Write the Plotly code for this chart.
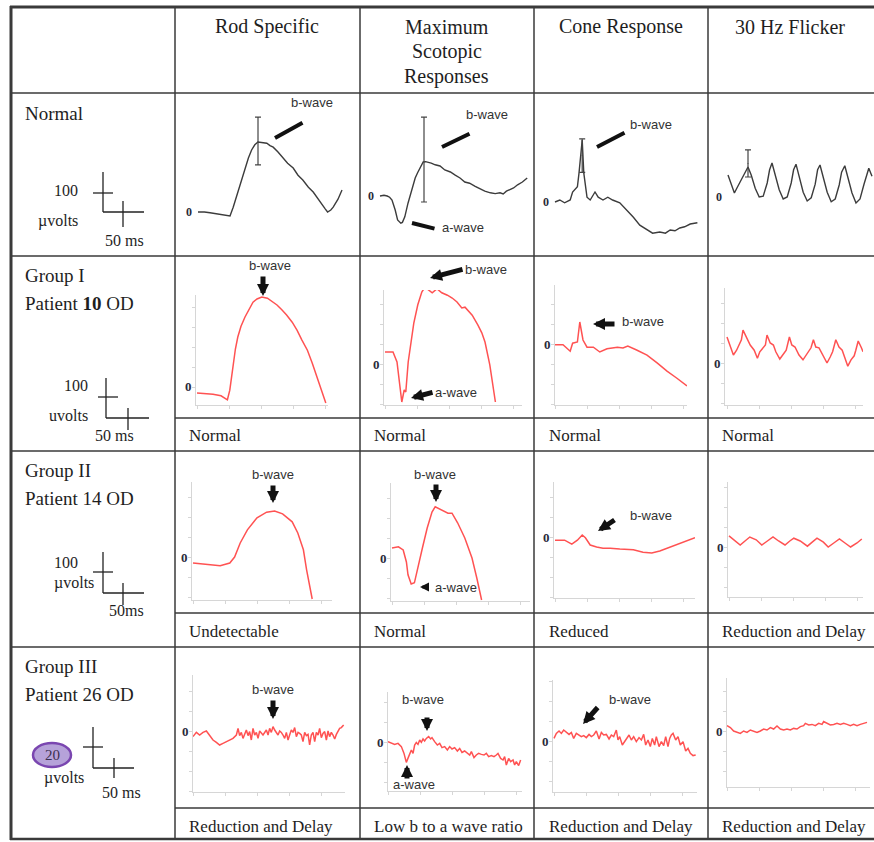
import plotly.graph_objects as go

W, H = 874, 842
SERIF = "Liberation Serif, Times New Roman, serif"
SANS = "Liberation Sans, Arial, sans-serif"
TXT = "#1e1e1e"

# ---------------- DATA ----------------
col_headers = ["Rod Specific", "Maximum|Scotopic|Responses", "Cone Response", "30 Hz Flicker"]
row_labels = ["Normal", "Group I|Patient <b>10</b> OD", "Group II|Patient 14 OD", "Group III|Patient 26 OD"]
captions_g1 = ["Normal", "Normal", "Normal", "Normal"]
captions_g2 = ["Undetectable", "Normal", "Reduced", "Reduction and Delay"]
captions_g3 = ["Reduction and Delay", "Low b to a wave ratio", "Reduction and Delay", "Reduction and Delay"]
scale_amp = ["100", "100", "100", "20"]
scale_unit = ["µvolts", "uvolts", "µvolts", "µvolts"]
scale_time = ["50 ms", "50 ms", "50ms", "50 ms"]

# Normal (black) traces: time (ms), amplitude (µV)
rod_n_t = [0, 8, 15, 24, 32, 40, 44, 48, 52, 56, 59, 63, 67, 71, 75, 80, 86, 90, 94, 100, 106, 112, 119, 125, 131, 138, 144, 150, 155, 159, 162, 166, 169, 175, 180]
rod_n_v = [0, 0, -2, -5, -8, -10, 12, 38, 62, 90, 112, 135, 155, 168, 175, 174, 172, 166, 162, 150, 137, 122, 110, 92, 80, 62, 50, 32, 18, 8, 0, 5, 12, 32, 55]
max_n_t = [0, 5, 9, 12, 15, 19, 22, 26, 28, 31, 35, 40, 44, 47, 50, 54, 57, 60, 64, 69, 75, 81, 88, 94, 100, 106, 112, 119, 125, 131, 138, 144, 150, 154, 158, 162, 167, 172, 178, 184]
max_n_v = [0, 2, 0, -3, -10, -35, -60, -68, -66, -52, -18, 15, 45, 58, 70, 85, 86, 85, 82, 78, 75, 65, 60, 52, 45, 35, 32, 24, 18, 12, 8, 6, 8, 5, 12, 15, 20, 28, 35, 45]
cone_n_t = [0, 6, 12, 19, 22, 28, 30, 32, 34, 36, 40, 44, 50, 54, 60, 66, 72, 81, 90, 98, 106, 115, 122, 131, 138, 144, 150, 156, 162, 169, 178]
cone_n_v = [0, 5, -2, 5, 25, 38, 72, 120, 155, 72, 12, 5, 25, 12, 5, 12, 5, -2, -20, -38, -58, -70, -78, -75, -78, -70, -72, -65, -62, -55, -52]
flk_n_t = [0, 4, 8, 11, 16, 21, 25, 29, 34, 39, 44, 49, 52, 55, 59, 64, 69, 74, 79, 82, 85, 89, 94, 99, 104, 109, 112, 115, 119, 124, 129, 134, 139, 142, 146, 150, 155, 160, 165, 170, 174, 176, 180]
flk_n_v = [55, 30, 10, 22, 42, 60, 75, 55, 22, 0, 2, 35, 68, 85, 55, 18, -5, 0, 35, 68, 82, 52, 12, -10, -2, 32, 68, 80, 50, 12, -12, -5, 30, 62, 78, 48, 10, -15, -5, 32, 62, 72, 52]

# b-wave measurement bars on the normal traces: time, centre, +, -
err_rod_n = [75, 175, 62, 57]
err_max_n = [55, 85, 112, 100]
err_cone_n = [34, 116, 42, 42]
err_flk_n = [25, 84, 34, 34]

# Group I (Patient 10 OD)
rod1_t = [0, 10, 20, 30, 38, 41, 45, 48, 51, 55, 60, 65, 70, 75, 81, 88, 94, 100, 106, 112, 119, 125, 131, 138, 144, 150, 156, 161]
rod1_v = [-15, -16, -18, -22, -32, -8, 60, 95, 125, 152, 175, 195, 212, 220, 225, 222, 214, 205, 193, 180, 162, 142, 118, 92, 60, 25, -8, -40]
max1_t = [0, 10, 15, 19, 21, 24, 26, 29, 34, 36, 41, 46, 50, 55, 59, 65, 71, 78, 84, 90, 96, 100, 105, 109, 116, 121, 125, 131, 138]
max1_v = [30, 30, 5, -60, -95, -65, -70, 5, 72, 102, 148, 180, 192, 185, 178, 188, 178, 172, 165, 155, 140, 142, 130, 122, 98, 78, 55, -2, -95]
cone1_t = [0, 10, 19, 22, 28, 31, 35, 40, 48, 56, 65, 78, 85, 91, 102, 115, 128, 140, 152, 165]
cone1_v = [-2, -2, -18, 2, 5, 55, 10, -8, -8, -20, -12, -8, -10, -5, -15, -28, -48, -68, -85, -105]
flk1_t = [0, 4, 8, 12, 18, 20, 24, 29, 34, 38, 41, 45, 48, 50, 54, 58, 61, 66, 70, 74, 78, 81, 85, 90, 95, 99, 102, 105, 108, 111, 115, 120, 125, 129, 132, 136, 140, 144, 148, 151, 155, 159, 161, 164, 168, 170]
flk1_v = [65, 45, 20, 32, 58, 82, 65, 45, 32, 12, 28, 38, 45, 70, 50, 45, 28, 10, 20, 32, 65, 45, 40, 20, 8, 20, 28, 38, 58, 40, 38, 18, 0, 15, 28, 58, 40, 32, 12, -8, 8, 18, 32, 55, 38, 28]

# Group II (Patient 14 OD)
rod2_t = [0, 18, 34, 46, 52, 59, 68, 80, 92, 102, 112, 124, 131, 138, 142, 149]
rod2_v = [-15, -18, -22, -15, 0, 35, 68, 98, 112, 115, 108, 88, 60, 18, -32, -105]
max2_t = [0, 8, 14, 18, 20, 24, 28, 32, 38, 44, 50, 54, 62, 70, 75, 82, 91, 100, 106, 112]
max2_v = [25, 28, 20, -10, -42, -65, -62, -25, 25, 75, 115, 128, 120, 112, 112, 88, 50, 0, -50, -105]
cone2_t = [0, 12, 21, 28, 34, 38, 44, 52, 60, 69, 81, 98, 110, 121, 131, 144, 156, 175]
cone2_v = [-8, -8, -18, -8, 5, -2, -20, -25, -28, -28, -30, -32, -38, -40, -35, -25, -15, -2]
flk2_t = [0, 6, 14, 20, 26, 34, 41, 48, 55, 62, 70, 76, 81, 89, 98, 104, 110, 118, 124, 131, 138, 145, 152, 160, 166]
flk2_v = [28, 18, 5, 15, 25, 18, 5, 15, 25, 15, 5, 15, 22, 15, 2, 12, 22, 12, 0, 10, 20, 10, 0, 10, 20]

# Group III (Patient 26 OD)
rod3_t = [0, 4.2, 8.3, 12.5, 16.7, 20.8, 25, 29.2, 33.3, 37.5, 41.7, 45.8, 50, 54.2, 56.3, 58.3, 60.4, 62.5, 64.6, 66.7, 68.8, 70.8, 72.9, 75, 77.1, 79.2, 81.3, 83.3, 87.5, 91.7, 93.8, 95.8, 97.9, 100, 102.1, 104.2, 106.3, 108.3, 110.4, 112.5, 114.6, 116.7, 118.8, 120.8, 122.9, 125, 127.1, 129.2, 131.3, 133.3, 135.4, 137.5, 139.6, 141.7, 143.8, 145.8, 147.9, 150, 152.1, 154.2, 156.3, 158.3, 160.4, 162.5, 164.6, 166.7, 168.8, 170.8, 172.9, 175, 177.1, 179.2, 181.3, 183.3, 185.4, 188.3]
rod3_v = [-2.8, -0.7, -2.0, -0.7, 0, -2.3, -4.5, -5.7, -7.0, -6.2, -5.3, -4.5, -3.7, -2.0, 1.3, -2.3, -0.7, -3.7, -1.2, 0.5, -2.3, -0.3, -4.5, 1.3, -2.0, -0.7, -3.7, 0, -2.0, 0.5, -2.0, 1.3, -0.7, 2.2, 0.5, -0.7, -2.0, 0, -0.7, -2.0, -3.7, -0.7, -4.5, -2.0, 0.5, -0.7, 1.7, -2.8, -0.7, -1.2, -2.0, -5.3, -0.7, -2.3, -1.7, -7.0, -2.0, -0.7, -5.3, -0.7, -2.0, 1.3, -3.3, -1.2, -0.3, -4.5, 0, -2.8, -0.7, -2.0, -4.0, -1.7, -0.3, 1.3, 1.7, 3.0]
max3_t = [0, 4.2, 8.3, 12.5, 16.7, 20, 22.9, 25.8, 29.2, 31.3, 33.3, 35.4, 37.5, 39.6, 41.7, 43.8, 45.8, 47.9, 50.8, 53.3, 55, 58.3, 61.7, 64.6, 67.5, 70.8, 74.2, 77.1, 80, 83.3, 86.7, 89.6, 92.5, 95.8, 99.2, 102.1, 104.2, 107.5, 110.4, 113.3, 116.7, 120, 122.9, 125.8, 129.2, 132.5, 135.4, 137.5, 140.8, 143.8, 145.8, 147.9, 150.8, 153.3, 156.3, 158.3, 160.4, 163.3, 165.8]
max3_v = [0.2, -0.7, -1.2, -0.7, -2.3, -5.7, -10.2, -7.3, -4.0, -5.7, -1.5, -0.2, -1.2, 1.0, -0.2, 1.5, 0.5, 1.8, 2.7, 1.5, 2.2, 0.2, -1.5, -0.7, -2.8, -2.3, -4.0, -2.3, -3.5, -2.8, -4.5, -3.2, -5.2, -4.5, -5.7, -6.5, -4.8, -7.8, -6.5, -5.7, -6.2, -6.5, -5.7, -7.3, -6.8, -7.3, -6.5, -5.7, -8.2, -9.0, -7.3, -11.5, -8.2, -9.8, -9.0, -11.5, -9.8, -11.8, -9.0]
cone3_t = [0, 2.9, 6.3, 9.2, 12.1, 15.4, 18.8, 21.7, 24.6, 27.9, 31.3, 34.2, 37.1, 40.4, 43.8, 46.7, 49.6, 52.9, 56.3, 59.2, 62.1, 65.4, 68.8, 71.7, 74.6, 77.9, 80, 82.1, 85.4, 88.3, 91.3, 93.8, 96.7, 99.6, 102.9, 106.3, 109.2, 112.1, 114.6, 117.5, 120.4, 122.9, 125.8, 127.9, 131.3, 134.2, 137.1, 139.6, 142.5, 144.6, 146.7, 148.8, 152.1, 155, 157.9, 161.3, 164.6, 167.5, 170.4, 173.8, 177.1]
cone3_v = [1.3, 3.8, 5.0, 3.8, 5.5, 4.3, 3.3, 4.3, 1.3, 3.8, 3.0, 2.2, 2.7, 1.7, 3.3, 2.2, 3.0, 5.0, 1.0, 4.3, 3.0, 3.3, 1.0, 3.0, 2.2, 5.5, 0.5, 2.2, -2.0, -0.3, 1.3, 3.0, 0.5, 2.2, -0.3, 1.7, 0.5, 3.3, -2.0, 0.5, -2.8, 1.3, -2.0, 2.2, -2.8, -0.3, -2.3, 2.2, -2.8, 1.3, 3.0, 3.8, 0.5, 2.2, -2.0, -0.3, -5.0, -3.7, -6.2, -7.3, -7.0]
flk3_t = [0, 4.2, 8.3, 12.5, 16.7, 20.8, 25, 29.2, 33.3, 37.5, 41.7, 45.8, 50, 54.2, 58.3, 62.5, 66.7, 70.8, 75, 79.2, 83.3, 87.5, 91.7, 95.8, 97.9, 102.1, 106.3, 110.4, 114.6, 118.8, 120.8, 125, 129.2, 133.3, 137.5, 141.7, 145.8, 150, 154.2, 158.3, 162.5, 166.7, 170.8, 175]
flk3_v = [2.7, 1.7, 0, -0.7, -1.2, 0, -0.7, 0.5, 0, -0.7, 0, 1.0, 0.5, 1.7, 1.0, 2.5, 1.0, 0.5, 1.0, 0.5, 1.3, 1.0, 2.2, 2.7, 3.8, 3.0, 3.3, 2.7, 3.8, 3.3, 4.7, 3.8, 3.0, 3.3, 3.8, 3.3, 3.8, 3.3, 2.7, 3.3, 2.7, 3.3, 3.8, 4.3]

# ---------------- LAYOUT (pixels) ----------------
S1 = (1.25, 2.5)   # ms/px, µV/px  (100 µV scale rows)
S4 = (1.25, 0.5)   # 20 µV scale row
panels = [
    # t, v, box (xL, yT, xR, yB), origin (x0, y0), scale, style, err
    (rod_n_t, rod_n_v, (196, 100, 346, 252), (198, 212), S1, "black", err_rod_n),
    (max_n_t, max_n_v, (378, 100, 530, 252), (380, 196), S1, "black", err_max_n),
    (cone_n_t, cone_n_v, (553, 100, 702, 252), (555, 202), S1, "black", err_cone_n),
    (flk_n_t, flk_n_v, (726, 100, 873, 252), (728, 197), S1, "black", err_flk_n),
    (rod1_t, rod1_v, (196, 295, 328, 405), (197, 387), S1, "red", None),
    (max1_t, max1_v, (384, 290, 522, 405), (385, 364), S1, "red", None),
    (cone1_t, cone1_v, (555, 285, 687, 405), (555, 344), S1, "red", None),
    (flk1_t, flk1_v, (725, 288, 863, 405), (727, 363), S1, "red", None),
    (rod2_t, rod2_v, (192, 482, 332, 600), (193, 557), S1, "red", None),
    (max2_t, max2_v, (391, 483, 530, 601), (392, 558), S1, "red", None),
    (cone2_t, cone2_v, (554, 482, 695, 598), (555, 537), S1, "red", None),
    (flk2_t, flk2_v, (728, 482, 863, 597), (729, 547), S1, "red", None),
    (rod3_t, rod3_v, (193, 675, 345, 792), (193, 731), S4, "red", None),
    (max3_t, max3_v, (388, 692, 522, 791), (388, 742), S4, "red", None),
    (cone3_t, cone3_v, (553, 680, 697, 792), (554, 741), S4, "red", None),
    (flk3_t, flk3_v, (727, 678, 870, 787), (727, 731), S4, "red", None),
]

def px(x):
    return x / W

def py(y):
    return 1 - y / H

fig = go.Figure()
layout = dict(width=W, height=H, margin=dict(l=0, r=0, t=0, b=0),
              paper_bgcolor="white", plot_bgcolor="rgba(0,0,0,0)", showlegend=False)
annotations = []
shapes = []

for i, (t, v, box, org, sc, style, err) in enumerate(panels, start=1):
    xL, yT, xR, yB = box
    x0, y0 = org
    sx, sy = sc
    xr = [(xL - x0) * sx, (xR - x0) * sx]
    yr = [(y0 - yB) * sy, (y0 - yT) * sy]
    sfx = "" if i == 1 else str(i)
    red = style == "red"
    ax = dict(domain=[px(xL), px(xR)], range=xr, anchor="y" + sfx, showgrid=False, zeroline=False,
              showticklabels=False, fixedrange=True)
    ay = dict(domain=[py(yB), py(yT)], range=yr, anchor="x" + sfx, showgrid=False, zeroline=False,
              showticklabels=False, fixedrange=True)
    if red:
        for a, d in ((ax, 40), (ay, 50 * sy / 2.5)):
            a.update(showline=True, linecolor="#d6d6d6", linewidth=1, ticks="outside",
                     ticklen=3, tickcolor="#d6d6d6", tickwidth=1, dtick=d, tick0=0)
    else:
        ax.update(visible=False)
        ay.update(visible=False)
    layout["xaxis" + sfx] = ax
    layout["yaxis" + sfx] = ay
    fig.add_trace(go.Scatter(x=t, y=v, mode="lines", xaxis="x" + sfx, yaxis="y" + sfx,
                             line=dict(color="#ff5252" if red else "#3c3c3c", width=1.5 if red else 1.4),
                             hoverinfo="skip", cliponaxis=False))
    if err is not None:
        fig.add_trace(go.Scatter(x=[err[0]], y=[err[1]], mode="markers", xaxis="x" + sfx, yaxis="y" + sfx,
                                 marker=dict(size=1, color="#444"),
                                 error_y=dict(type="data", symmetric=False, array=[err[2]], arrayminus=[err[3]],
                                              width=3, thickness=1.2, color="#444"),
                                 hoverinfo="skip"))
    annotations.append(dict(text="<b>0</b>", xref="x%s domain" % sfx, yref="y" + sfx, x=0, y=0,
                            xanchor="right", yanchor="middle", xshift=-2, showarrow=False,
                            font=dict(family=SERIF, size=12 if not red else 13, color="#2a2a3a")))

# ---- table grid ----
def hline(y, x0, x1, w=1.5):
    shapes.append(dict(type="line", xref="paper", yref="paper", x0=px(x0), x1=px(x1), y0=py(y), y1=py(y),
                       line=dict(color="#3a3a3a", width=w)))

def vline(x, y0, y1, w=1.5):
    shapes.append(dict(type="line", xref="paper", yref="paper", x0=px(x), x1=px(x), y0=py(y0), y1=py(y1),
                       line=dict(color="#3a3a3a", width=w)))

for y in (93, 256, 451, 647):
    hline(y, 11, 874)
for y in (418, 613, 808):
    hline(y, 175, 874)
for x in (175, 360, 534, 708):
    vline(x, 7, 839)
hline(7, 10, 874, 3)
hline(839, 10, 874, 2.5)
vline(11, 6, 840, 3)

# ---- text helper ----
def text(s, x, y, size=19, anchor="left", family=SERIF, color=TXT):
    annotations.append(dict(text=s, xref="paper", yref="paper", x=px(x), y=py(y), xanchor=anchor,
                            yanchor="middle", showarrow=False, font=dict(family=family, size=size, color=color)))

# column headers
col_centers = [267, 447, 621, 790]
for c, hdr in zip(col_centers, col_headers):
    for k, line in enumerate(hdr.split("|")):
        text(line, c, 27 + 25 * k, 20, "center")

# row labels
row_label_y = [[113], [275, 303], [470, 498], [666, 694]]
for lab, ys in zip(row_labels, row_label_y):
    for line, yy in zip(lab.split("|"), ys):
        text(line, 23, yy, 19)

# captions
cap_x = [187, 372, 547, 720]
for caps, yy in ((captions_g1, 435), (captions_g2, 631), (captions_g3, 826)):
    for cx, s in zip(cap_x, caps):
        text(s, cx, yy, 17)

# scale crosses (vertical, horizontal, base, tick) per row
scale_geo = [
    dict(v=(103, 172, 212), h=(93, 113, 193), b=(103, 144, 212), t=(123, 201, 227),
         amp=(80, 191, "right"), unit=(80, 221, "right"), time=(146, 241, "right")),
    dict(v=(106, 378, 418), h=(98, 118, 397), b=(106, 149, 418), t=(128, 408, 430),
         amp=(90, 385, "right"), unit=(90, 415, "right"), time=(136, 436, "right")),
    dict(v=(103, 552, 593), h=(93, 113, 572), b=(103, 144, 593), t=(123, 583, 605),
         amp=(80, 562, "right"), unit=(96, 583, "right"), time=(146, 610, "right")),
    dict(v=(93, 727, 768), h=(83, 103, 747), b=(93, 134, 768), t=(114, 758, 778),
         amp=(52, 755, "center"), unit=(86, 778, "right"), time=(143, 792, "right")),
]
for g, a, u, tm in zip(scale_geo, scale_amp, scale_unit, scale_time):
    vx, vy0, vy1 = g["v"]
    hx0, hx1, hy = g["h"]
    bx0, bx1, by = g["b"]
    tx, ty0, ty1 = g["t"]
    for (xa, ya, xb, yb) in ((vx, vy0, vx, vy1), (hx0, hy, hx1, hy), (bx0, by, bx1, by), (tx, ty0, tx, ty1)):
        shapes.append(dict(type="line", xref="paper", yref="paper", x0=px(xa), y0=py(ya), x1=px(xb), y1=py(yb),
                           line=dict(color="#222", width=1.3)))
    if a == "20":
        shapes.append(dict(type="circle", xref="paper", yref="paper", x0=px(33), x1=px(71), y0=py(767), y1=py(743),
                           fillcolor="#b6a2d9", line=dict(color="#7a46b0", width=2.5)))
        text(a, g["amp"][0], g["amp"][1], 15, "center", color="#3a3050")
    else:
        text(a, g["amp"][0], g["amp"][1], 16, g["amp"][2])
    text(u, g["unit"][0], g["unit"][1], 16, g["unit"][2])
    text(tm, g["time"][0], g["time"][1], 16, g["time"][2])

# ---- arrows (head, tail, style) ----
arrows = [
    ((275, 138), (304, 122), "bar"), ((442, 147), (471, 133), "bar"), ((412, 223), (436, 229), "bar"),
    ((597, 147), (626, 132), "bar"),
    ((263, 296), (263, 275), "block"), ((430, 278), (464, 269), "block"), ((411, 398), (434, 392), "block"),
    ((593, 324), (616, 324), "block"),
    ((273, 503), (273, 484), "block"), ((436, 502), (436, 483), "block"), ((420, 587), (430, 587), "small"),
    ((598, 531), (616, 519), "block"),
    ((273, 719), (273, 699), "block"), ((427, 731), (427, 716), "block"), ((407, 765), (407, 780), "block"),
    ((583, 724), (599, 706), "block"),
]
for (hx, hy), (tx, ty), st in arrows:
    d = dict(x=px(hx), y=py(hy), xref="paper", yref="paper", ax=tx - hx, ay=ty - hy, axref="pixel",
             ayref="pixel", text="", showarrow=True, arrowcolor="#111", standoff=0, startstandoff=0)
    if st == "bar":
        d.update(arrowhead=0, arrowwidth=4)
    elif st == "small":
        d.update(arrowhead=2, arrowwidth=3, arrowsize=0.6)
    else:
        d.update(arrowhead=2, arrowwidth=5, arrowsize=0.48)
    annotations.append(d)

wave_labels = [
    ("b-wave", 312, 103), ("b-wave", 487, 114), ("a-wave", 463, 227), ("b-wave", 651, 124),
    ("b-wave", 270, 266), ("b-wave", 486, 269), ("a-wave", 456, 392), ("b-wave", 643, 321),
    ("b-wave", 273, 474), ("b-wave", 435, 474), ("a-wave", 456, 587), ("b-wave", 651, 515),
    ("b-wave", 273, 689), ("b-wave", 423, 699), ("a-wave", 414, 784), ("b-wave", 630, 699),
]
for s, x, y in wave_labels:
    text(s, x, y, 13, "center", SANS, "#333")

layout["annotations"] = annotations
layout["shapes"] = shapes
fig.update_layout(**layout)
fig.write_html("out.html", config={"displayModeBar": False},
               post_script="document.body.style.margin='0';document.body.style.padding='0';")
